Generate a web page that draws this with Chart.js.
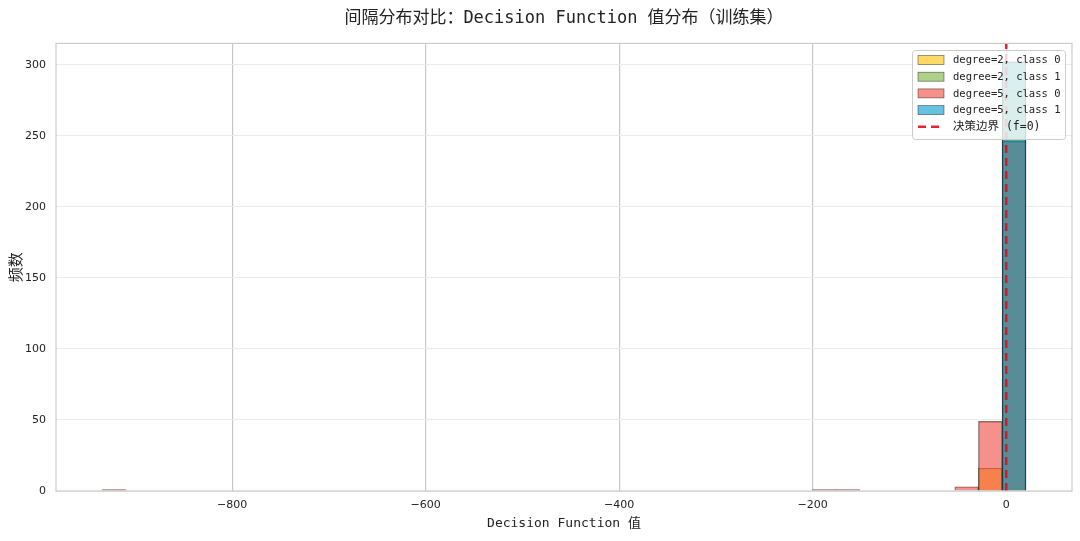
<!DOCTYPE html>
<html>
<head>
<meta charset="utf-8">
<script src="https://cdn.jsdelivr.net/npm/chart.js@4.4.1/dist/chart.umd.min.js"></script>
<style>
  html, body { margin: 0; padding: 0; background: #fff; }
</style>
</head>
<body>
<canvas id="chart" width="1080" height="541"></canvas>
<script>
/* ================= Dados ================= */
// centros dos bins com contagem > 0 (largura ~24.5)
const binCenters = [-922.2, -187.8, -163.3, -40.9, -16.4, 8.1];
const deg2Class0 = [0, 0, 0, 0, 16, 282];
const deg2Class1 = [0, 0, 0, 0, 0, 302];
const deg5Class0 = [1, 1, 1, 3, 49, 246];
const deg5Class1 = [0, 0, 0, 0, 0, 302];
const boundaryX = 0;
const xTicks = [-800, -600, -400, -200, 0];
const yTicks = [0, 50, 100, 150, 200, 250, 300];
const xRange = [-982, 68];
const yRange = [0, 315];

const MONO = '"DejaVu Sans Mono", "Noto Sans CJK SC", monospace';
const SANS = '"DejaVu Sans", "Noto Sans CJK SC", sans-serif';
const EDGE = 'rgba(0,0,0,0.55)';

function barSet(label, counts, fill, order) {
  return {
    type: 'bar', label, order,
    data: binCenters.map((x, i) => ({ x, y: counts[i] })),
    backgroundColor: fill, borderColor: EDGE, borderWidth: 0.7,
    grouped: false, barPercentage: 1, categoryPercentage: 1
  };
}

const datasets = [
  barSet('degree=2, class 0', deg2Class0, 'rgba(255,193,7,0.62)', 4),
  barSet('degree=2, class 1', deg2Class1, 'rgba(124,179,66,0.62)', 3),
  barSet('degree=5, class 0', deg5Class0, 'rgba(240,70,60,0.6)', 2),
  barSet('degree=5, class 1', deg5Class1, 'rgba(10,155,205,0.62)', 1),
  {
    type: 'line', label: '决策边界 (f=0)', order: 0,
    data: [{ x: boundaryX, y: yRange[0] }, { x: boundaryX, y: yRange[1] }],
    borderColor: 'rgba(228,10,30,0.9)', borderWidth: 2.5, borderDash: [8, 5],
    pointRadius: 0, fill: false
  }
];

const fmt = v => v < 0 ? '\u2212' + Math.abs(v) : String(v);

/* ================= Moldura do eixo ================= */
const moldura = {
  id: 'moldura',
  afterDatasetsDraw(chart) {
    const { ctx, chartArea: a } = chart;
    ctx.save();
    ctx.strokeStyle = '#cccccc';
    ctx.lineWidth = 1.2;
    ctx.strokeRect(a.left, a.top, a.right - a.left, a.bottom - a.top);
    ctx.restore();
  }
};

/* ================= Legenda dentro do gráfico ================= */
const legenda = {
  id: 'legenda',
  afterDraw(chart) {
    const { ctx } = chart;
    const x0 = 912, y0 = 50, w = 153, h = 89, row = 16.7;
    ctx.save();
    ctx.fillStyle = 'rgba(255,255,255,0.8)';
    ctx.strokeStyle = '#cccccc';
    ctx.lineWidth = 1;
    ctx.beginPath();
    ctx.roundRect(x0 + 0.5, y0 + 0.5, w, h, 3);
    ctx.fill();
    ctx.stroke();
    ctx.textBaseline = 'middle';
    chart.data.datasets.forEach((ds, i) => {
      const cy = y0 + 10 + i * row;
      if (ds.type === 'bar') {
        ctx.fillStyle = ds.backgroundColor;
        ctx.fillRect(918, cy - 4.5, 26, 9);
        ctx.strokeStyle = EDGE;
        ctx.lineWidth = 0.7;
        ctx.strokeRect(918, cy - 4.5, 26, 9);
      } else {
        ctx.strokeStyle = ds.borderColor;
        ctx.lineWidth = ds.borderWidth;
        ctx.setLineDash(ds.borderDash);
        ctx.beginPath();
        ctx.moveTo(918, cy);
        ctx.lineTo(944, cy);
        ctx.stroke();
        ctx.setLineDash([]);
      }
      ctx.fillStyle = '#222';
      ctx.font = (ds.type === 'bar' ? '10.5px ' : '11.5px ') + MONO;
      ctx.fillText(ds.label, 953, cy + 0.5);
    });
    ctx.restore();
  }
};

new Chart(document.getElementById('chart'), {
  type: 'bar',
  data: { datasets },
  options: {
    responsive: false,
    animation: false,
    devicePixelRatio: 1,
    layout: { padding: { left: 0, right: 8, top: 0, bottom: 0 } },
    plugins: {
      legend: { display: false },
      tooltip: { enabled: false },
      title: {
        display: true,
        fullSize: false,
        text: '间隔分布对比：Decision Function 值分布（训练集）',
        color: '#222',
        font: { family: MONO, size: 17, weight: 'normal' },
        padding: { top: 8, bottom: 15 }
      }
    },
    scales: {
      x: {
        type: 'linear', min: xRange[0], max: xRange[1], offset: false,
        afterBuildTicks: s => { s.ticks = xTicks.map(v => ({ value: v })); },
        afterFit: s => { s.height = 50; },
        grid: { color: '#c8c8c8', lineWidth: 1.2, drawTicks: false, offset: false },
        border: { display: false },
        ticks: { padding: 8, color: '#222', font: { family: SANS, size: 11 }, callback: v => fmt(v), maxRotation: 0 },
        title: {
          display: true, text: 'Decision Function 值', color: '#222',
          font: { family: MONO, size: 13 }, padding: { top: 0, bottom: 10 }
        }
      },
      y: {
        min: yRange[0], max: yRange[1],
        afterBuildTicks: s => { s.ticks = yTicks.map(v => ({ value: v })); },
        afterFit: s => { s.width = 56; },
        grid: { color: '#ebebeb', lineWidth: 1, drawTicks: false },
        border: { display: false },
        ticks: { padding: 10, color: '#222', font: { family: SANS, size: 11 }, callback: v => fmt(v) },
        title: {
          display: true, text: '频数', color: '#222',
          font: { family: MONO, size: 15 }, padding: { top: 8, bottom: 0 }
        }
      }
    }
  },
  plugins: [moldura, legenda]
});
</script>
</body>
</html>
